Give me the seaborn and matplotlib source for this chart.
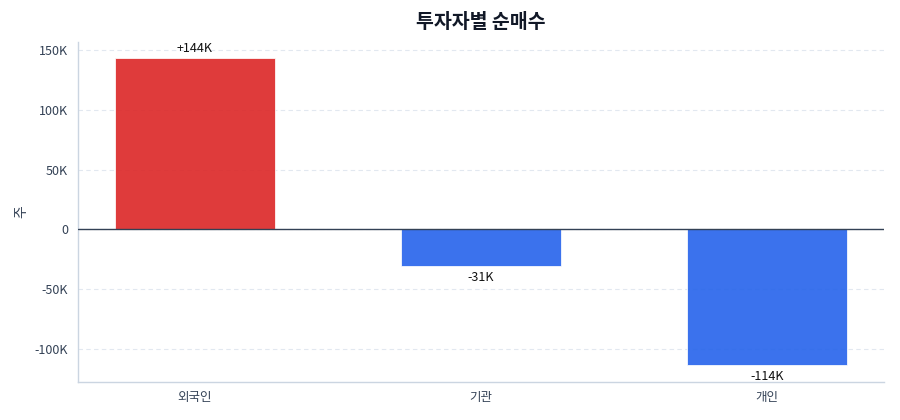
import matplotlib
matplotlib.use("Agg")
import matplotlib.pyplot as plt
import matplotlib.ticker as mticker
import seaborn as sns
import pandas as pd

categories = ["외국인", "기관", "개인"]
net_buy = [144000, -31000, -114000]
title_text = "투자자별 순매수"
y_label = "주"

sns.set_theme(style="white")
plt.rcParams['font.family'] = ['Noto Sans CJK KR', 'DejaVu Sans']
plt.rcParams['axes.unicode_minus'] = False

df = pd.DataFrame({"investor": categories, "value": net_buy})
pos_color = "#dc2626"
neg_color = "#2563eb"
palette = {c: (pos_color if v >= 0 else neg_color) for c, v in zip(categories, net_buy)}

fig, ax = plt.subplots(figsize=(9, 4.2), dpi=100)
fig.subplots_adjust(left=0.087, right=0.982, top=0.9, bottom=0.09)

sns.barplot(data=df, x="investor", y="value", hue="investor", palette=palette,
            width=0.56, legend=False, ax=ax, alpha=0.9, linewidth=0.6,
            saturation=1)
for p in ax.patches:
    p.set_edgecolor((1, 1, 1, 0.35))

ax.set_ylim(-128000, 157000)
ax.set_xlim(-0.408, 2.408)
ax.axhline(0, color="#334155", linewidth=1.0, zorder=3)

def kfmt(v, pos):
    if v == 0:
        return "0"
    return f"{int(round(v/1000))}K"
ax.yaxis.set_major_locator(mticker.MultipleLocator(50000))
ax.yaxis.set_major_formatter(mticker.FuncFormatter(kfmt))

ax.grid(axis="y", color="#e2e8f0", linestyle=(0, (4, 3)), linewidth=0.8)
ax.set_axisbelow(True)

for s in ["top", "right"]:
    ax.spines[s].set_visible(False)
for s in ["left", "bottom"]:
    ax.spines[s].set_color("#cbd5e1")
    ax.spines[s].set_linewidth(1.0)

ax.tick_params(axis="both", colors="#334155", labelsize=9, length=4, width=1,
               labelcolor="#334155")
ax.tick_params(axis="x", length=3)
ax.set_xlabel("")
ax.set_ylabel(y_label, fontsize=10, color="#334155")
ax.set_title(title_text, fontsize=14, fontweight="bold", color="#111827", pad=10)

for i, v in enumerate(net_buy):
    txt = f"+{v/1000:.0f}K" if v >= 0 else f"{v/1000:.0f}K"
    if v >= 0:
        ax.annotate(txt, (i, v), xytext=(0, 2), textcoords="offset points",
                    ha="center", va="bottom", fontsize=9, color="#111111")
    else:
        ax.annotate(txt, (i, v), xytext=(0, -3), textcoords="offset points",
                    ha="center", va="top", fontsize=9, color="#111111")

fig.savefig("out.png", dpi=100)
